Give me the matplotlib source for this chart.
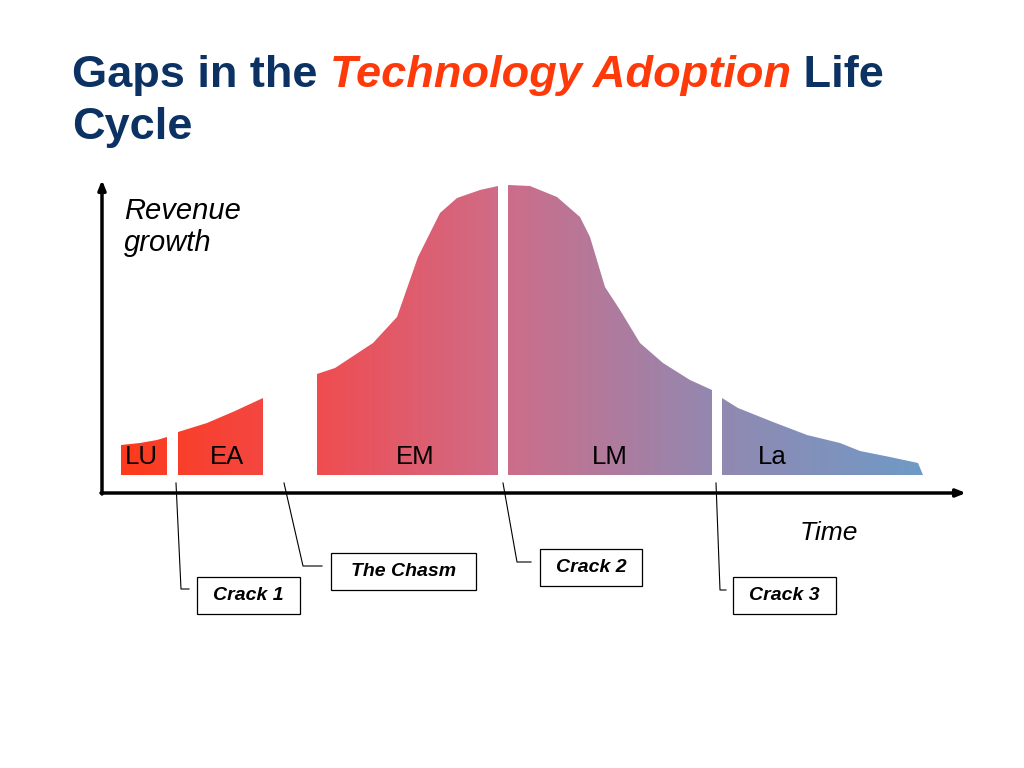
import numpy as np
import matplotlib.pyplot as plt
from matplotlib.patches import Polygon, Rectangle
from matplotlib.colors import LinearSegmentedColormap

plt.rcParams['font.family'] = ['Liberation Sans', 'DejaVu Sans']

# curve segments (x, top y) in picture units, baseline at y=475
baseline = 475
segments = {
    "LU": ([121, 140, 157, 167], [445, 443, 440, 437]),
    "EA": ([178, 207, 235, 263], [432, 423, 411, 398]),
    "EM": ([317, 335, 373, 397, 418, 440, 457, 480, 498],
           [374, 368, 343, 317, 257, 213, 198, 190, 186]),
    "LM": ([508, 530, 557, 580, 590, 605, 620, 640, 663, 690, 712],
           [185, 186, 197, 217, 237, 287, 310, 343, 363, 380, 390]),
    "La": ([722, 738, 773, 807, 840, 860, 890, 918, 923],
           [398, 408, 422, 435, 443, 451, 457, 463, 475]),
}
label_x = {"LU": 141, "EA": 227, "EM": 415, "LM": 610, "La": 772}

# gradient stops along x
grad_x = [121, 317, 500, 712, 923]
grad_c = ["#fd3a1c", "#f04c50", "#cf6c88", "#9388b0", "#6f9ac6"]

# annotations: label, line points, box (left, top, right, bottom)
callouts = [
    ("Crack 1", [176, 181, 189], [483, 589, 589], (197, 577, 300, 614)),
    ("The Chasm", [284, 303, 322], [483, 566, 566], (331, 553, 476, 590)),
    ("Crack 2", [503, 517, 531], [483, 562, 562], (540, 549, 642, 586)),
    ("Crack 3", [716, 720, 726], [483, 590, 590], (733, 577, 836, 614)),
]

navy = "#0b3263"
red = "#ff3a0a"

fig = plt.figure(figsize=(10.24, 7.68), dpi=100)
ax = fig.add_axes([0, 0, 1, 1])
ax.set_xlim(0, 1024)
ax.set_ylim(768, 0)
ax.axis("off")

# gradient image
pos = [(v - grad_x[0]) / (grad_x[-1] - grad_x[0]) for v in grad_x]
cmap = LinearSegmentedColormap.from_list("adopt", list(zip(pos, grad_c)))
grad = np.linspace(0, 1, 512).reshape(1, -1)

for name, (xs, ys) in segments.items():
    pts = [(xs[0], baseline)] + list(zip(xs, ys)) + [(xs[-1], baseline)]
    poly = Polygon(pts, closed=True, facecolor="none", edgecolor="none")
    ax.add_patch(poly)
    im = ax.imshow(grad, cmap=cmap, aspect="auto",
                   extent=(grad_x[0], grad_x[-1], baseline, 180),
                   interpolation="bilinear", zorder=1)
    im.set_clip_path(poly)
    ax.text(label_x[name], 457, name, fontsize=18.5, ha="center", va="center",
            color="black", zorder=3)

ax.set_xlim(0, 1024)
ax.set_ylim(768, 0)

# axes arrows
ax.annotate("", xy=(102, 180), xytext=(102, 494),
            arrowprops=dict(arrowstyle="-|>,head_width=0.22,head_length=0.55",
                            lw=2.5, color="black", shrinkA=0, shrinkB=0))
ax.annotate("", xy=(966, 493), xytext=(101, 493),
            arrowprops=dict(arrowstyle="-|>,head_width=0.22,head_length=0.55",
                            lw=2.5, color="black", shrinkA=0, shrinkB=0))

ax.text(124, 211, "Revenue", fontsize=21, style="italic",
        ha="left", va="center")
ax.text(124, 243, "growth", fontsize=21, style="italic",
        ha="left", va="center")
ax.text(800, 533, "Time", fontsize=19, style="italic", ha="left", va="center")

for label, lx, ly, (l, t, r, b) in callouts:
    ax.plot(lx, ly, color="black", lw=0.8, zorder=2)
    ax.add_patch(Rectangle((l, t), r - l, b - t, facecolor="white",
                           edgecolor="black", lw=0.9, zorder=2))
    ax.text((l + r) / 2, (t + b) / 2, label, fontsize=14, weight="bold",
            style="italic", ha="center", va="center", zorder=3)

# title with mixed styles
t1 = ax.text(72, 87, "Gaps in the ", fontsize=32.5, weight="bold", color=navy,
             ha="left", va="baseline")
t2 = ax.annotate("Technology Adoption", xycoords=t1, xy=(1, 0), fontsize=32.5,
                 weight="bold", style="italic", color=red, va="bottom")
t3 = ax.annotate(" Life", xycoords=t2, xy=(1, 0), fontsize=32.5,
                 weight="bold", color=navy, va="bottom")
ax.text(72, 139, "Cycle", fontsize=32.5, weight="bold", color=navy,
        ha="left", va="baseline")

fig.savefig("out.png", dpi=100)
